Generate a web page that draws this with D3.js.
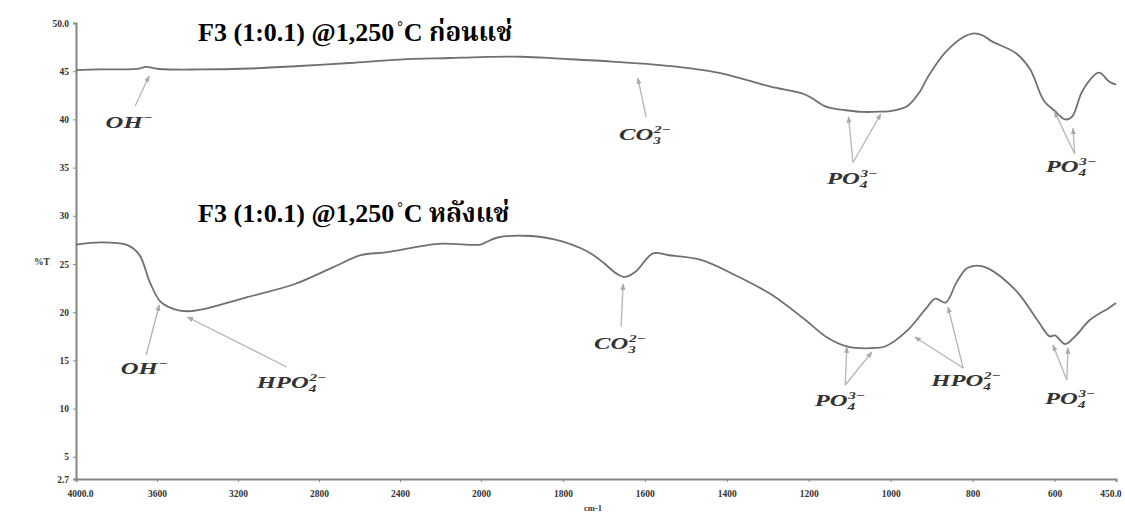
<!DOCTYPE html>
<html>
<head>
<meta charset="utf-8">
<script src="https://cdn.jsdelivr.net/npm/d3@7"></script>
<style>
  body { margin: 0; background: #fff; }
  svg { display: block; }
</style>
</head>
<body>
<svg id="chart" width="1125" height="515"></svg>
<script>
// FTIR spectra of F3 (1:0.1) sintered at 1,250 °C, before and after soaking.
// Wavenumber (cm-1) and transmittance (%T) pairs.
const beforeWavenumber = [4000, 3886, 3700, 3653, 3589, 3391, 3144, 2896, 2649, 2401, 2154, 2000, 1900, 1807, 1680, 1550, 1422, 1293, 1208, 1156, 1110, 1070, 1030, 993, 959, 930, 908, 865, 820, 797, 775, 754, 694, 660, 626, 600, 574, 557, 531, 492, 467, 450];
const beforeT          = [45.12, 45.18, 45.25, 45.44, 45.23, 45.18, 45.28, 45.54, 45.85, 46.21, 46.37, 46.47, 46.5, 46.3, 46.0, 45.58, 44.85, 43.39, 42.56, 41.29, 40.95, 40.78, 40.8, 40.92, 41.39, 42.8, 44.49, 47.03, 48.6, 48.93, 48.7, 48.12, 46.86, 45.22, 41.94, 40.9, 40.0, 40.3, 43.03, 44.85, 43.94, 43.6];

const afterWavenumber = [4000, 3878, 3748, 3687, 3635, 3583, 3513, 3444, 3375, 3166, 2923, 2732, 2593, 2471, 2211, 2003, 1988, 1959, 1898, 1821, 1740, 1700, 1670, 1649, 1623, 1580, 1542, 1465, 1379, 1293, 1208, 1156, 1105, 1036, 1011, 959, 916, 891, 866, 839, 814, 788, 762, 694, 642, 612, 599, 574, 548, 514, 467, 450];
const afterT          = [27.0, 27.25, 26.98, 25.95, 23.1, 21.1, 20.3, 20.1, 20.3, 21.5, 22.9, 24.65, 25.92, 26.21, 27.09, 27.01, 27.27, 27.75, 27.93, 27.56, 26.3, 25.1, 24.03, 23.66, 24.2, 26.1, 25.91, 25.45, 23.84, 21.88, 19.19, 17.41, 16.43, 16.3, 16.5, 18.12, 20.26, 21.4, 21.0, 23.12, 24.55, 24.84, 24.55, 22.23, 19.19, 17.5, 17.6, 16.7, 17.58, 19.19, 20.45, 20.95];

// Axis ticks
const xTickValues = [4000, 3600, 3200, 2800, 2400, 2000, 1800, 1600, 1400, 1200, 1000, 800, 600, 450];
const xTickLabels = ["4000.0", "3600", "3200", "2800", "2400", "2000", "1800", "1600", "1400", "1200", "1000", "800", "600", "450.0"];
const yTickValues = [50, 45, 40, 35, 30, 25, 20, 15, 10, 5, 2.7];
const yTickLabels = ["50.0", "45", "40", "35", "30", "25", "20", "15", "10", "5", "2.7"];

// Spectrum titles (anchored at a wavenumber / %T position)
const titles = [
  { main: "F3 (1:0.1) @1,250", tail: "C ก่อนแช่", wn: 3397, t: 48.13 },
  { main: "F3 (1:0.1) @1,250", tail: "C หลังแช่", wn: 3397, t: 29.36 }
];

// Band assignments: base formula, subscript, superscript, label anchor and arrow tips (wavenumber, %T)
const bandLabels = [
  { base: "OH",  sub: "",  sup: "−",  wn: 3738, t: 39.11, from: [3708, 41.39], tips: [[3639, 44.50]] },
  { base: "CO",  sub: "3", sup: "2−", wn: 1600, t: 37.86, from: [1597, 40.25], tips: [[1617, 44.29]] },
  { base: "PO",  sub: "4", sup: "3−", wn: 1094, t: 33.35, from: [1092, 35.53], tips: [[1103, 40.27], [1024, 40.56]] },
  { base: "PO",  sub: "4", sup: "3−", wn: 560,  t: 34.54, from: [551, 36.44],  tips: [[600, 40.81], [555, 39.07]] },
  { base: "OH",  sub: "",  sup: "−",  wn: 3663, t: 13.59, from: [3653, 15.56], tips: [[3589, 20.75]] },
  { base: "HPO", sub: "4", sup: "2−", wn: 2936, t: 12.14, from: [2960, 14.32], tips: [[3450, 19.50]] },
  { base: "CO",  sub: "3", sup: "2−", wn: 1661, t: 16.18, from: [1658, 18.49], tips: [[1653, 22.93]] },
  { base: "PO",  sub: "4", sup: "3−", wn: 1124, t: 10.27, from: [1111, 12.45], tips: [[1107, 16.39], [1046, 15.87]] },
  { base: "HPO", sub: "4", sup: "2−", wn: 816,  t: 12.35, from: [823, 14.21],  tips: [[941, 17.43], [860, 20.54]] },
  { base: "PO",  sub: "4", sup: "3−", wn: 562,  t: 10.48, from: [570, 12.97],  tips: [[604, 16.60], [567, 16.29]] }
];

const svg = d3.select("#chart");
const serif = "'Liberation Serif', 'Times New Roman', 'Noto Serif Thai', 'Noto Sans Thai', serif";

// Instrument-style axis: scale doubles below 2000 cm-1
const x = d3.scaleLinear().domain([4000, 2000, 450]).range([76, 481, 1116]);
const y = d3.scaleLinear().domain([2.7, 50]).range([479, 23]);

// X axis
const xAxis = svg.append("g")
  .attr("transform", `translate(0,${y(2.7)})`)
  .call(d3.axisBottom(x).tickValues(xTickValues).tickSize(3).tickPadding(8)
    .tickFormat((d, i) => xTickLabels[i]));

// Y axis
const yAxis = svg.append("g")
  .attr("transform", `translate(${x(4000)},0)`)
  .call(d3.axisLeft(y).tickValues(yTickValues).tickSize(3).tickPadding(4)
    .tickFormat((d, i) => yTickLabels[i]));

[xAxis, yAxis].forEach(ax => {
  ax.select(".domain").attr("stroke", "#858585").attr("stroke-width", 2);
  ax.selectAll(".tick line").attr("stroke", "#888").attr("stroke-width", 1);
  ax.selectAll(".tick text")
    .attr("font-family", serif).attr("font-size", 9.5)
    .attr("font-weight", "bold").attr("fill", "#333");
});

// Keep the end labels inside the frame
xAxis.selectAll(".tick text").filter(d => d === 450)
  .attr("text-anchor", "end").attr("dx", 5);
xAxis.selectAll(".tick text").filter(d => d === 4000)
  .attr("dx", 4);

svg.append("text")
  .attr("x", 42).attr("y", 265)
  .attr("text-anchor", "middle")
  .attr("font-family", serif).attr("font-size", 9.5).attr("font-weight", "bold")
  .attr("fill", "#333").text("%T");

svg.append("text")
  .attr("x", 593).attr("y", 511)
  .attr("text-anchor", "middle")
  .attr("font-family", serif).attr("font-size", 8.5).attr("font-weight", "bold")
  .attr("fill", "#333").text("cm-1");

// Spectra
const line = d3.line()
  .x(d => x(d[0]))
  .y(d => y(d[1]))
  .curve(d3.curveCatmullRom.alpha(0.5));

[[beforeWavenumber, beforeT], [afterWavenumber, afterT]].forEach(([wn, t]) => {
  svg.append("path")
    .datum(wn.map((w, i) => [w, t[i]]))
    .attr("fill", "none")
    .attr("stroke", "#707070")
    .attr("stroke-width", 1.8)
    .attr("stroke-linejoin", "round")
    .attr("d", line);
});

// Arrowhead marker for band pointers
svg.append("defs").append("marker")
  .attr("id", "tip")
  .attr("viewBox", "0 0 10 10")
  .attr("refX", 9).attr("refY", 5)
  .attr("markerWidth", 5).attr("markerHeight", 5)
  .attr("orient", "auto")
  .append("path")
  .attr("d", "M0,1 L10,5 L0,9 Z")
  .attr("fill", "#aaa");

const notes = svg.append("g");
bandLabels.forEach(b => {
  b.tips.forEach(tp => {
    notes.append("line")
      .attr("x1", x(b.from[0])).attr("y1", y(b.from[1]))
      .attr("x2", x(tp[0])).attr("y2", y(tp[1]))
      .attr("stroke", "#b4b4b4").attr("stroke-width", 1.3)
      .attr("marker-end", "url(#tip)");
  });

  const outer = notes.append("g")
    .attr("transform", `translate(${x(b.wn)},${y(b.t)}) scale(1.45,1)`);
  const inner = outer.append("g");
  const style = s => s.attr("font-family", serif).attr("font-style", "italic")
    .attr("font-weight", "bold").attr("fill", "#333");
  const baseText = style(inner.append("text").attr("x", 0).attr("y", 0).attr("font-size", 17).text(b.base));
  const w = baseText.node().getComputedTextLength();
  let extra = 0;
  if (b.sup) {
    const s = style(inner.append("text").attr("x", w + 0.5).attr("y", -7).attr("font-size", 10.5).text(b.sup));
    extra = Math.max(extra, s.node().getComputedTextLength() + 0.5);
  }
  if (b.sub) {
    const s = style(inner.append("text").attr("x", w).attr("y", 4).attr("font-size", 10.5).text(b.sub));
    extra = Math.max(extra, s.node().getComputedTextLength());
  }
  inner.attr("transform", `translate(${-(w + extra) / 2},0)`);
});

// Titles
titles.forEach(tt => {
  const t = svg.append("text")
    .attr("x", x(tt.wn)).attr("y", y(tt.t))
    .attr("font-family", serif).attr("font-weight", "bold")
    .attr("font-size", 26).attr("fill", "#000");
  t.append("tspan").text(tt.main);
  t.append("tspan").attr("dx", 3).attr("dy", -10).attr("font-size", 14).text("°");
  t.append("tspan").attr("dx", 1).attr("dy", 10).text(tt.tail);
});
</script>
</body>
</html>
